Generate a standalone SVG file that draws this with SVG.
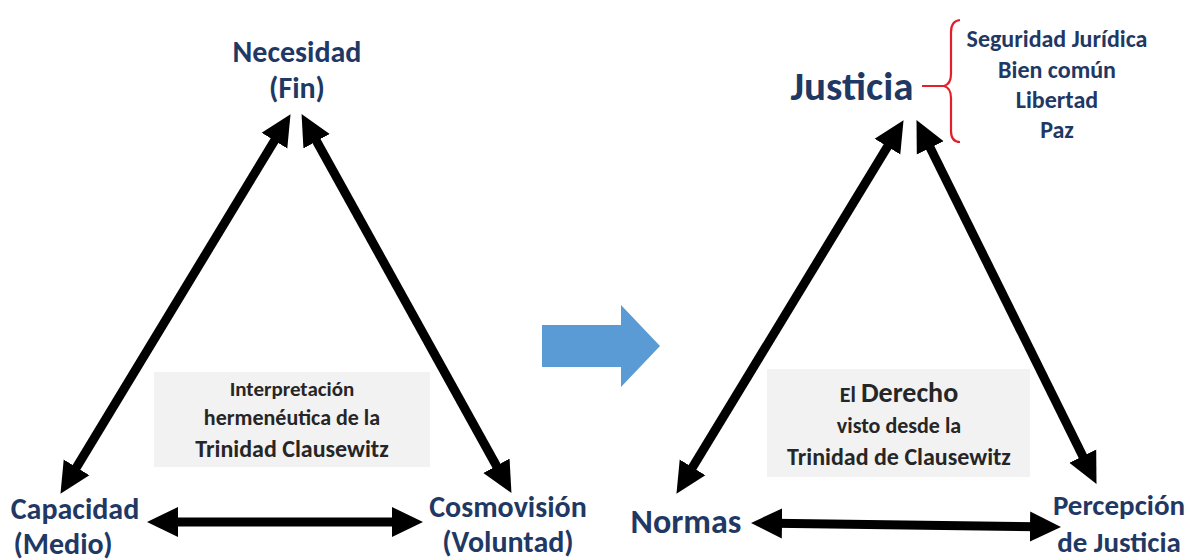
<svg xmlns="http://www.w3.org/2000/svg" width="1190" height="560" viewBox="0 0 1190 560">
<style>
.lbl{font-family:Carlito,Lato,"Open Sans",sans-serif;font-weight:bold;fill:#1F3864;text-anchor:middle}
.box{fill:#F2F2F2}
.bt{font-family:Carlito,Lato,"Open Sans",sans-serif;font-weight:bold;fill:#262626;text-anchor:middle}
.conn{stroke:#000;stroke-width:9;fill:none;marker-start:url(#ah);marker-end:url(#ah)}
</style>
<defs>
<marker id="ah" markerUnits="userSpaceOnUse" markerWidth="34" markerHeight="32" refX="8" refY="15" orient="auto-start-reverse" viewBox="0 0 34 30">
<path d="M0,0 L31,15 L0,30 z" fill="#000"/>
</marker>
</defs>
<rect width="1190" height="560" fill="#fff"/>

<g id="box-left">
<rect class="box" x="154" y="372" width="276" height="95"/>
<text class="bt" x="292" y="396" font-size="21">Interpretación</text>
<text class="bt" x="292" y="425" font-size="22">hermenéutica de la</text>
<text class="bt" x="292" y="457" font-size="24">Trinidad Clausewitz</text>
</g>
<g id="box-right">
<rect class="box" x="767" y="369" width="263" height="108"/>
<text class="bt" x="899" y="402" font-size="22">El <tspan font-size="28">Derecho</tspan></text>
<text class="bt" x="899" y="433" font-size="22">visto desde la</text>
<text class="bt" x="899" y="465" font-size="24">Trinidad de Clausewitz</text>
</g>

<g id="connectors">
<line class="conn" x1="72.4" y1="474.2" x2="278.6" y2="133.8"/>
<line class="conn" x1="312.7" y1="134.2" x2="500.3" y2="472.8"/>
<line class="conn" x1="170" y1="522" x2="400" y2="522"/>
<line class="conn" x1="688.4" y1="474.2" x2="891.6" y2="139.8"/>
<line class="conn" x1="926.7" y1="140.7" x2="1086.3" y2="463.3"/>
<line class="conn" x1="774" y1="523.3" x2="1038" y2="526.7"/>
</g>

<g id="transition-arrow">
<polygon points="542,325 621,325 621,305 660,346 621,387 621,367 542,367" fill="#5B9BD5"/>
</g>

<g id="necesidad">
<text class="lbl" x="297" y="62" font-size="30">Necesidad</text>
<text class="lbl" x="297" y="98" font-size="30">(Fin)</text>
</g>
<g id="capacidad">
<text class="lbl" x="75" y="519" font-size="30">Capacidad</text>
<text class="lbl" x="63" y="554" font-size="30">(Medio)</text>
</g>
<g id="cosmovision">
<text class="lbl" x="508" y="517" font-size="30">Cosmovisión</text>
<text class="lbl" x="508" y="552" font-size="30">(Voluntad)</text>
</g>
<g id="justicia">
<text class="lbl" x="852" y="100" font-size="41">Justicia</text>
</g>
<g id="valores">
<path d="M960,20 Q951,21 951,32 L951,74 Q951,84 944,86 Q951,88 951,98 L951,131 Q951,142 960,142 M922,86 L944,86" fill="none" stroke="#E3202A" stroke-width="2.2"/>
<text class="lbl" x="1057" y="47" font-size="24">Seguridad Jurídica</text>
<text class="lbl" x="1057" y="78" font-size="24">Bien común</text>
<text class="lbl" x="1057" y="108" font-size="24">Libertad</text>
<text class="lbl" x="1057" y="138" font-size="24">Paz</text>
</g>
<g id="normas">
<text class="lbl" x="686" y="533" font-size="34">Normas</text>
</g>
<g id="percepcion">
<text class="lbl" x="1119" y="515" font-size="29">Percepción</text>
<text class="lbl" x="1119" y="552" font-size="29">de Justicia</text>
</g>
</svg>
